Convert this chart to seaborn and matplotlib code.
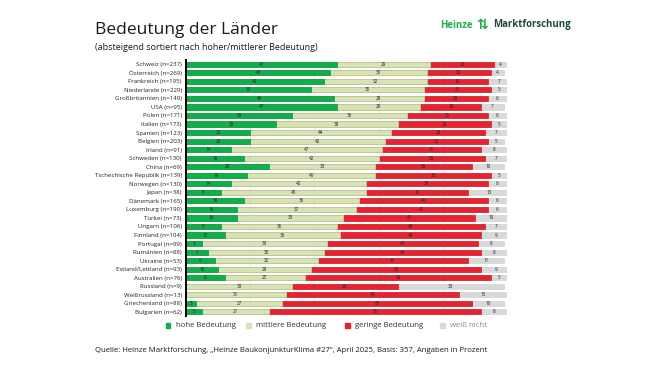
import numpy as np
import pandas as pd
import seaborn as sns
import matplotlib.pyplot as plt
from matplotlib.patches import Rectangle

countries = [
    'Schweiz (n=237)', 'Österreich (n=269)', 'Frankreich (n=195)', 'Niederlande (n=229)',
    'Großbritannien (n=149)', 'USA (n=95)', 'Polen (n=171)', 'Italien (n=173)',
    'Spanien (n=123)', 'Belgien (n=203)', 'Irland (n=91)', 'Schweden (n=130)',
    'China (n=69)', 'Tschechische Republik (n=139)', 'Norwegen (n=130)', 'Japan (n=38)',
    'Dänemark (n=165)', 'Luxemburg (n=190)', 'Türkei (n=73)', 'Ungarn (n=106)',
    'Finnland (n=104)', 'Portugal (n=99)', 'Rumänien (n=88)', 'Ukraine (n=53)',
    'Estland/Lettland (n=93)', 'Australien (n=76)', 'Russland (n=9)', 'Weißrussland (n=13)',
    'Griechenland (n=88)', 'Bulgarien (n=62)',
]
hoch = [47, 45, 43, 39, 46, 47, 33, 28, 20, 20, 14, 18, 26, 19, 14, 11, 18, 16, 16, 11,
        12, 5, 7, 9, 10, 12, 0, 0, 3, 5]
mittel = [29, 30, 32, 35, 28, 26, 36, 38, 44, 42, 47, 42, 33, 40, 42, 45, 36, 37, 33, 36,
          36, 39, 36, 32, 29, 25, 33, 31, 27, 21]
gering = [20, 20, 19, 21, 20, 19, 25, 29, 29, 32, 31, 33, 30, 36, 38, 32, 40, 41, 41, 46,
          44, 47, 49, 47, 53, 58, 33, 54, 59, 66]
weiss = [4, 4, 7, 5, 6, 7, 6, 5, 7, 5, 8, 7, 10, 5, 6, 13, 6, 6, 10, 7,
         9, 8, 8, 11, 9, 5, 33, 15, 10, 8]

series = ['hohe Bedeutung', 'mittlere Bedeutung', 'geringe Bedeutung', 'weiß nicht']
colors = ['#0fb04b', '#d3e4b5', '#e8232f', '#d9d9d9']
edges = ['#0a9640', '#c6dba4', '#c91d28', '#d2d2d2']

df = pd.DataFrame({'land': countries, 'hoch': hoch, 'mittel': mittel,
                   'gering': gering, 'weiss': weiss})
cols = ['hoch', 'mittel', 'gering', 'weiss']
cum = df[cols].cumsum(axis=1)

sns.set_theme(style='whitegrid')
plt.rcParams['font.family'] = ['Open Sans', 'DejaVu Sans']

fig = plt.figure(figsize=(6.65, 3.75), dpi=100)
ax = fig.add_axes([0.2797, 0.157, 0.4827, 0.683])

# stacked bars: draw cumulative totals from back to front
for i in range(3, -1, -1):
    sns.barplot(x=cum[cols[i]], y=df['land'], orient='y', color=colors[i],
                saturation=1, width=0.6, edgecolor=edges[i], linewidth=0.5,
                ax=ax, zorder=2)

# value labels in segment centres
for r in range(len(df)):
    start = 0
    for i, c in enumerate(cols):
        v = df[c].iloc[r]
        if v > 0:
            ax.text(start + v / 2, r, f'{v}', ha='center', va='center',
                    fontsize=3.3, color='#222222', zorder=3)
        start += v

ax.set_xlim(0, 100)
ax.set_ylim(len(df) - 0.5, -0.5)
ax.set_xticks([0, 20, 40, 60, 80, 100])
ax.set_xticklabels([])
ax.set_xlabel('')
ax.set_ylabel('')
ax.grid(axis='x', color='#e6e6e6', linewidth=0.6)
ax.grid(axis='y', visible=False)
ax.set_axisbelow(True)
ax.tick_params(axis='y', labelsize=4.4, pad=3, length=0, colors='#222222')
ax.tick_params(axis='x', length=0)
for s in ['top', 'right', 'bottom']:
    ax.spines[s].set_visible(False)
ax.spines['left'].set_color('black')
ax.spines['left'].set_linewidth(1.4)
ax.spines['left'].set_zorder(4)

# titles
fig.text(95 / 665, 1 - 30 / 375, 'Bedeutung der Länder', fontsize=12.5,
         color='#1a1a1a', va='center', ha='left')
fig.text(95 / 665, 1 - 47 / 375, '(absteigend sortiert nach hoher/mittlerer Bedeutung)',
         fontsize=6.5, color='#1a1a1a', va='center', ha='left')

# logo
fig.text(440 / 665, 1 - 25 / 375, 'Heinze', fontsize=6.9, fontweight='bold',
         color='#1fae4b', va='center', ha='left')
fig.text(482 / 665, 1 - 25 / 375, '⇅', fontsize=10, fontweight='bold',
         color='#1fae4b', va='center', ha='center', family=['DejaVu Sans'])
fig.text(493 / 665, 1 - 25 / 375, 'Marktforschung', fontsize=6.9, fontweight='bold',
         color='#1d4a38', va='center', ha='left')

# legend
leg_x = [166, 246, 345, 440]
for i, name in enumerate(series):
    fig.patches.append(Rectangle((leg_x[i] / 665, 1 - 327.5 / 375), 4.5 / 665, 4.5 / 375,
                                 transform=fig.transFigure, color=colors[i]))
    fig.text((leg_x[i] + 10) / 665, 1 - 325.5 / 375, name, fontsize=5.6,
             color='#333333' if i < 3 else '#8a8a8a', va='center', ha='left')

# source
fig.text(95 / 665, 1 - 351 / 375,
         'Quelle: Heinze Marktforschung, \u201eHeinze BaukonjunkturKlima #27\u201c, April 2025, '
         'Basis: 357, Angaben in Prozent',
         fontsize=5.6, color='#1a1a1a', va='center', ha='left')

fig.savefig('out.png', dpi=100, facecolor='white')
